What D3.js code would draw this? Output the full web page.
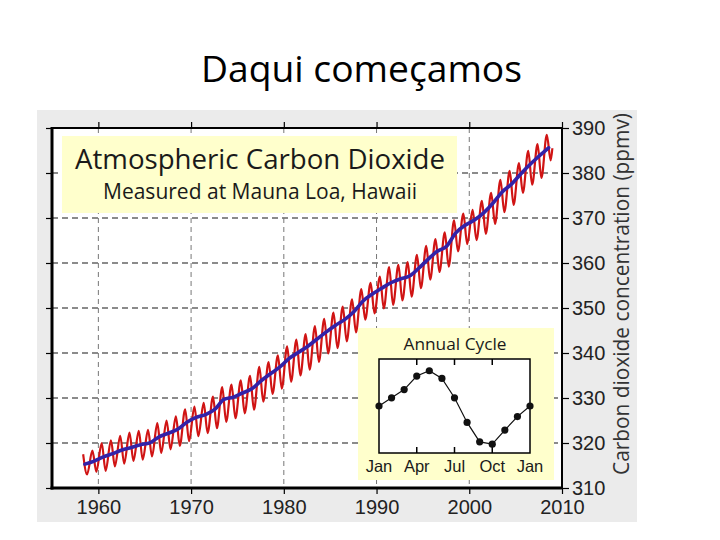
<!DOCTYPE html>
<html><head><meta charset="utf-8">
<script src="https://cdn.jsdelivr.net/npm/d3@7"></script>
<style>html,body{margin:0;padding:0;background:#fff;}svg{display:block;}</style>
</head><body>
<svg id="c" width="720" height="540"></svg>
<script>
// ---------- data ----------
const years = [1958,1959,1960,1961,1962,1963,1964,1965,1966,1967,1968,1969,1970,1971,1972,1973,1974,1975,1976,1977,1978,1979,1980,1981,1982,1983,1984,1985,1986,1987,1988,1989,1990,1991,1992,1993,1994,1995,1996,1997,1998,1999,2000,2001,2002,2003,2004,2005,2006,2007,2008];
const annualMean = [315.3,315.98,316.91,317.64,318.45,318.99,319.62,320.04,321.38,322.16,323.04,324.62,325.68,326.32,327.45,329.68,330.18,331.11,332.04,333.83,335.40,336.84,338.75,340.11,341.45,343.05,344.65,346.12,347.42,349.19,351.57,353.12,354.39,355.61,356.45,357.10,358.83,360.82,362.61,363.73,366.70,368.38,369.55,371.14,373.28,375.80,377.52,379.80,381.90,383.79,385.60];
const mayPeak = [317.5,318.3,320.0,320.6,321.6,322.3,322.7,322.9,324.4,325.0,325.9,327.5,328.1,328.9,330.3,332.4,333.0,333.9,334.9,336.9,338.0,339.5,341.5,343.0,344.2,346.0,347.6,349.0,350.3,351.9,354.2,355.6,357.0,359.1,359.6,360.2,361.8,363.8,365.3,366.8,369.5,371.0,371.8,373.8,375.6,378.5,380.5,382.2,384.9,386.4,388.5];
const autumnLow = [313.0,313.6,313.8,314.8,315.4,316.0,316.3,317.0,317.8,318.6,319.4,320.4,321.5,322.2,323.3,324.7,325.5,326.6,327.4,329.2,330.9,332.1,333.6,335.0,336.3,338.0,339.9,341.1,342.6,344.6,347.4,348.8,349.9,350.7,351.7,352.5,354.4,356.3,358.0,359.2,362.6,364.2,365.1,366.5,368.7,371.3,372.9,375.6,377.4,378.9,382.8];
const redTail = [[2008.96,385.5]];
const yTicks = [310,320,330,340,350,360,370,380,390];
const xTicks = [1960,1970,1980,1990,2000,2010];
const months = ["Jan","Feb","Mar","Apr","May","Jun","Jul","Aug","Sep","Oct","Nov","Dec","Jan"];
const cycle = [0.0,0.7,1.4,2.55,3.0,2.35,0.7,-1.4,-3.05,-3.25,-2.05,-0.9,0.0];
const monthLabelIdx = [0,3,6,9,12];

// ---------- layout ----------
const svg = d3.select("#c");
const L=52,R=562,T=128,B=488;
const x = d3.scaleLinear().domain([1955,2010]).range([L,R]);
const y = d3.scaleLinear().domain([310,390]).range([B,T]);
const sansM = "'Open Sans','Noto Sans',sans-serif";
const arial = "'Liberation Sans',Arial,sans-serif";

function fit(sel,w){ sel.attr("textLength",w).attr("lengthAdjust","spacingAndGlyphs"); }

// slide title
svg.append("text").attr("x",361.5).attr("y",82).attr("text-anchor","middle")
  .attr("font-family","'Open Sans',Lato,sans-serif").attr("font-size",36).attr("fill","#000")
  .text("Daqui começamos").call(fit,321);

// gray panel
svg.append("rect").attr("x",37).attr("y",110).attr("width",600).attr("height",412).attr("fill","#ebebeb");
svg.append("rect").attr("x",L).attr("y",T).attr("width",R-L).attr("height",B-T).attr("fill","#fff");

// grid
svg.append("g").selectAll("line").data(yTicks.filter(v=>v>310&&v<390)).join("line")
  .attr("x1",L).attr("x2",R).attr("y1",d=>y(d)).attr("y2",d=>y(d))
  .attr("stroke","#666").attr("stroke-width",1.5).attr("stroke-dasharray","6,4");
svg.append("g").selectAll("line").data(xTicks.filter(v=>v<2010)).join("line")
  .attr("y1",T).attr("y2",B).attr("x1",d=>x(d)).attr("x2",d=>x(d))
  .attr("stroke","#777").attr("stroke-width",1).attr("stroke-dasharray","5,4");

// clip
svg.append("clipPath").attr("id","pc").append("rect").attr("x",L).attr("y",T).attr("width",R-L).attr("height",B-T);

// red monthly curve (peaks & troughs)
const redPts = [];
years.forEach((yr,i)=>{ redPts.push([yr+0.36,mayPeak[i]]); redPts.push([yr+0.78,autumnLow[i]]); });
redTail.forEach(p=>redPts.push(p));
const lineR = d3.line().x(d=>x(d[0])).y(d=>y(d[1])).curve(d3.curveMonotoneX);
svg.append("path").attr("clip-path","url(#pc)").attr("d",lineR(redPts))
  .attr("fill","none").attr("stroke","#d01414").attr("stroke-width",2.2).attr("stroke-linejoin","round");

// blue trend
const bluePts = years.map((yr,i)=>[yr+0.55,annualMean[i]]);
svg.append("path").attr("clip-path","url(#pc)").attr("d",d3.line().x(d=>x(d[0])).y(d=>y(d[1])).curve(d3.curveMonotoneX)(bluePts))
  .attr("fill","none").attr("stroke","#3322a8").attr("stroke-width",3.6).attr("stroke-linecap","round").attr("stroke-linejoin","round");

// title box
svg.append("rect").attr("x",62).attr("y",136).attr("width",395).attr("height",77).attr("fill","#ffffcc");
svg.append("text").attr("x",260).attr("y",169).attr("text-anchor","middle").attr("font-family",sansM)
  .attr("font-size",28).attr("fill","#1a1a1a").text("Atmospheric Carbon Dioxide").call(fit,370);
svg.append("text").attr("x",260).attr("y",199).attr("text-anchor","middle").attr("font-family",sansM)
  .attr("font-size",22).attr("fill","#1a1a1a").text("Measured at Mauna Loa, Hawaii").call(fit,314);

// inset
svg.append("rect").attr("x",358).attr("y",328).attr("width",196).attr("height",152).attr("fill","#ffffcc");
const IL=379,IR=530,IT=359,IB=453;
const ix = d3.scaleLinear().domain([0,12]).range([IL,IR]);
const iy = d3.scaleLinear().domain([-4,4]).range([IB,IT]);
svg.append("rect").attr("x",IL).attr("y",IT).attr("width",IR-IL).attr("height",IB-IT).attr("fill","#fff")
  .attr("stroke","#000").attr("stroke-width",1.5);
const ig = svg.append("g");
[3,6,9].forEach(m=>{
  ig.append("line").attr("x1",ix(m)).attr("x2",ix(m)).attr("y1",IT).attr("y2",IT+6).attr("stroke","#000").attr("stroke-width",1.5);
  ig.append("line").attr("x1",ix(m)).attr("x2",ix(m)).attr("y1",IB).attr("y2",IB-6).attr("stroke","#000").attr("stroke-width",1.5);
});
svg.append("path").attr("d",d3.line().x((d,i)=>ix(i)).y(d=>iy(d))(cycle))
  .attr("fill","none").attr("stroke","#111").attr("stroke-width",1.2);
svg.append("g").selectAll("circle").data(cycle).join("circle")
  .attr("cx",(d,i)=>ix(i)).attr("cy",d=>iy(d)).attr("r",3.6).attr("fill","#111");
svg.append("text").attr("x",455).attr("y",350).attr("text-anchor","middle").attr("font-family",sansM)
  .attr("font-size",17).attr("fill","#1a1a1a").text("Annual Cycle").call(fit,103);
svg.append("g").selectAll("text").data(monthLabelIdx).join("text")
  .attr("x",d=>ix(d)).attr("y",472).attr("text-anchor","middle").attr("font-family",arial)
  .attr("font-size",16.5).attr("fill","#1a1a1a").text(d=>months[d]);

// frame
svg.append("rect").attr("x",L).attr("y",T).attr("width",R-L).attr("height",B-T).attr("fill","none")
  .attr("stroke","#000").attr("stroke-width",2);
svg.append("line").attr("x1",L).attr("x2",L).attr("y1",T-1).attr("y2",B+1.5).attr("stroke","#000").attr("stroke-width",3);
svg.append("line").attr("x1",L-1.5).attr("x2",R+1).attr("y1",B).attr("y2",B).attr("stroke","#000").attr("stroke-width",3);

// axes via d3
const axR = d3.axisRight(y).tickValues(yTicks).tickSize(7).tickPadding(3).tickFormat(d3.format("d"));
const gR = svg.append("g").attr("transform",`translate(${R},0)`).call(axR);
const axL = d3.axisLeft(y).tickValues(yTicks).tickSize(6).tickFormat("");
const gL = svg.append("g").attr("transform",`translate(${L},0)`).call(axL);
const axB = d3.axisBottom(x).tickValues(xTicks).tickSize(6).tickPadding(6).tickFormat(d3.format("d"));
const gB = svg.append("g").attr("transform",`translate(0,${B})`).call(axB);
const axT = d3.axisTop(x).tickValues(xTicks).tickSize(6).tickFormat("");
const gT = svg.append("g").attr("transform",`translate(0,${T})`).call(axT);
[gR,gL,gB,gT].forEach(g=>{ g.select(".domain").remove(); g.selectAll(".tick line").attr("stroke","#000").attr("stroke-width",1.2); });
gR.selectAll("text").attr("font-family",arial).attr("font-size",20).attr("fill","#222");
gB.selectAll("text").attr("font-family",arial).attr("font-size",20).attr("fill","#222").attr("dy","0.68em");

// y label
svg.append("text").attr("transform","translate(629,294) rotate(-90)").attr("text-anchor","middle")
  .attr("font-family",sansM).attr("font-size",21).attr("fill","#333")
  .text("Carbon dioxide concentration (ppmv)").call(fit,362);
</script>
</body></html>
